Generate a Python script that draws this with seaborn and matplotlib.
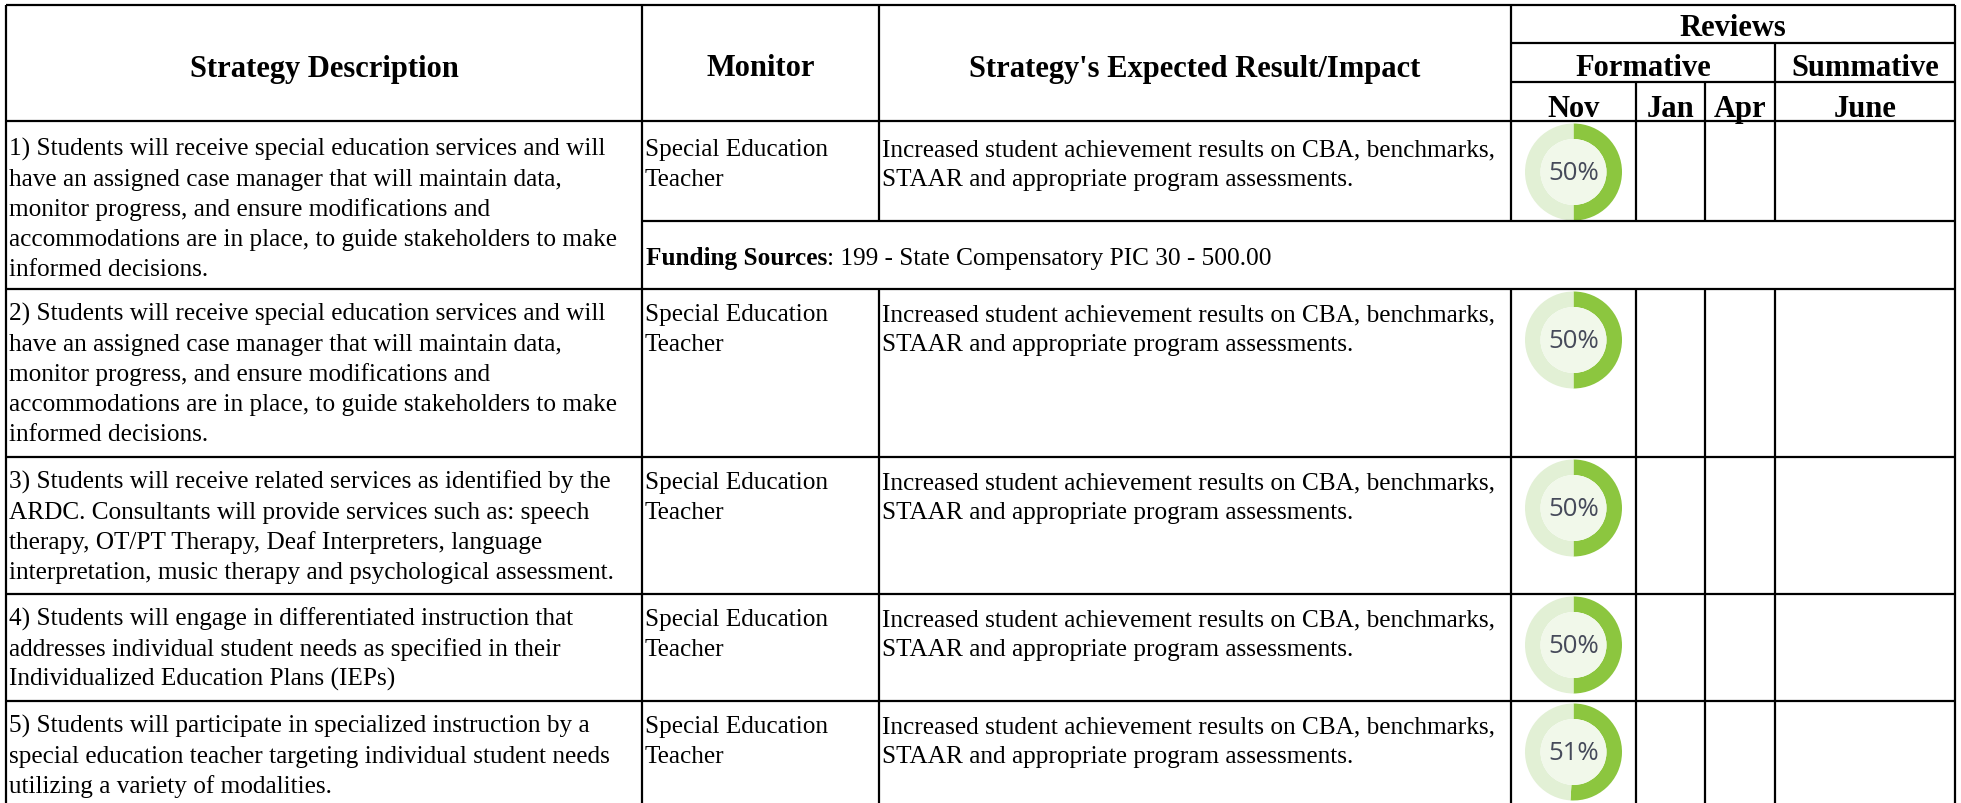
import matplotlib
matplotlib.use("Agg")
import matplotlib.pyplot as plt
import seaborn as sns

# table content
strategies = [
    ["1) Students will receive special education services and will",
     "have an assigned case manager that will maintain data,",
     "monitor progress, and ensure modifications and",
     "accommodations are in place, to guide stakeholders to make",
     "informed decisions."],
    ["2) Students will receive special education services and will",
     "have an assigned case manager that will maintain data,",
     "monitor progress, and ensure modifications and",
     "accommodations are in place, to guide stakeholders to make",
     "informed decisions."],
    ["3) Students will receive related services as identified by the",
     "ARDC. Consultants will provide services such as: speech",
     "therapy, OT/PT Therapy, Deaf Interpreters, language",
     "interpretation, music therapy and psychological assessment."],
    ["4) Students will engage in differentiated instruction that",
     "addresses individual student needs as specified in their",
     "Individualized Education Plans (IEPs)"],
    ["5) Students will participate in specialized instruction by a",
     "special education teacher targeting individual student needs",
     "utilizing a variety of modalities."],
]
monitors = [["Special Education", "Teacher"]] * 5
impacts = [["Increased student achievement results on CBA, benchmarks,",
            "STAAR and appropriate program assessments."]] * 5
nov_pct = [50, 50, 50, 50, 51]
funding_label = "Funding Sources"
funding_text = ": 199 - State Compensatory PIC 30 - 500.00"

main_headers = ["Strategy Description", "Monitor", "Strategy's Expected Result/Impact"]
review_header = "Reviews"
review_groups = ["Formative", "Summative"]
review_months = ["Nov", "Jan", "Apr", "June"]

# layout (pixels)
W, H = 1961, 804
col_x = [6, 642, 879, 1511, 1636, 1705, 1775, 1955]
head_y = [6, 44, 83, 122]
row_y = [122, 290, 458, 595, 702, 830]
fund_top = 222
line_gap = 30
first_base = 31

sns.set_theme(style="white")
plt.rcParams["font.family"] = ["Liberation Serif", "DejaVu Serif"]
plt.rcParams["text.color"] = "black"

green = "#8cc63f"
ring_light = "#e2f0d5"
inner_fill = "#f1f8ea"

fig = plt.figure(figsize=(W / 100, H / 100), dpi=100)
ax = fig.add_axes([0, 0, 1, 1])

lw = 1.6
kw = dict(colors="black", linewidth=lw)
# horizontal rules
ax.hlines([head_y[0], head_y[3]] + row_y[1:5], col_x[0], col_x[-1], **kw)
ax.hlines(head_y[1:3], col_x[3], col_x[-1], **kw)
ax.hlines(fund_top, col_x[1], col_x[-1], **kw)
# vertical rules
ax.vlines([col_x[0], col_x[1], col_x[-1]], head_y[0], row_y[-1], **kw)
for i, x in enumerate(col_x[2:-1], start=2):
    y0 = head_y[0] if i <= 3 else (head_y[1] if i == 6 else head_y[2])
    ax.vlines(x, y0, fund_top, **kw)
    ax.vlines(x, row_y[1], row_y[-1], **kw)

# headers
hfs = 22
hkw = dict(ha="center", va="center", fontsize=hfs, fontweight="bold")
for j, t in enumerate(main_headers):
    ax.text((col_x[j] + col_x[j + 1]) / 2, (head_y[0] + head_y[3]) / 2 + 5, t, **hkw)
ax.text((col_x[3] + col_x[7]) / 2, (head_y[0] + head_y[1]) / 2 + 4, review_header, **hkw)
ax.text((col_x[3] + col_x[6]) / 2, (head_y[1] + head_y[2]) / 2 + 5, review_groups[0], **hkw)
ax.text((col_x[6] + col_x[7]) / 2, (head_y[1] + head_y[2]) / 2 + 5, review_groups[1], **hkw)
for j, m in enumerate(review_months):
    a, b = (col_x[3 + j], col_x[4 + j]) if j < 3 else (col_x[6], col_x[7])
    ax.text((a + b) / 2, (head_y[2] + head_y[3]) / 2 + 7, m, **hkw)

# body rows
bfs = 18.2
for r in range(5):
    top = row_y[r]
    base = first_base + (3 if r == 0 else 0)
    for col, lines in ((0, strategies[r]), (1, monitors[r]), (2, impacts[r])):
        for k, line in enumerate(lines):
            ax.text(col_x[col] + 3, top + base + k * line_gap, line,
                    ha="left", va="baseline", fontsize=bfs)
    # progress donut in the Nov column
    cx = (col_x[3] + col_x[4]) / 2
    cy = top + 51
    p = nov_pct[r]
    ax.pie([p, 100 - p], colors=[green, ring_light], radius=48.5, center=(cx, cy),
           startangle=270, counterclock=True, frame=True,
           wedgeprops=dict(width=15.5, linewidth=0))
    ax.pie([100], colors=[inner_fill], radius=33, center=(cx, cy), frame=True,
           wedgeprops=dict(linewidth=0))
    ax.text(cx, cy + 1, f"{p}%", ha="center", va="center", fontsize=18.5,
            color="#464a5a", family=["Open Sans", "DejaVu Sans"])

# funding row
fy = (fund_top + row_y[1]) / 2 + 3
fl = ax.text(col_x[1] + 4, fy, funding_label, ha="left", va="center",
             fontsize=bfs, fontweight="bold")
ax.annotate(funding_text, xy=(1, 0), xycoords=fl, ha="left", va="bottom",
            fontsize=bfs)

ax.set_xlim(0, W)
ax.set_ylim(H, 0)
ax.set_aspect("auto")
ax.axis("off")

fig.savefig("out.png", dpi=100, facecolor="white")
